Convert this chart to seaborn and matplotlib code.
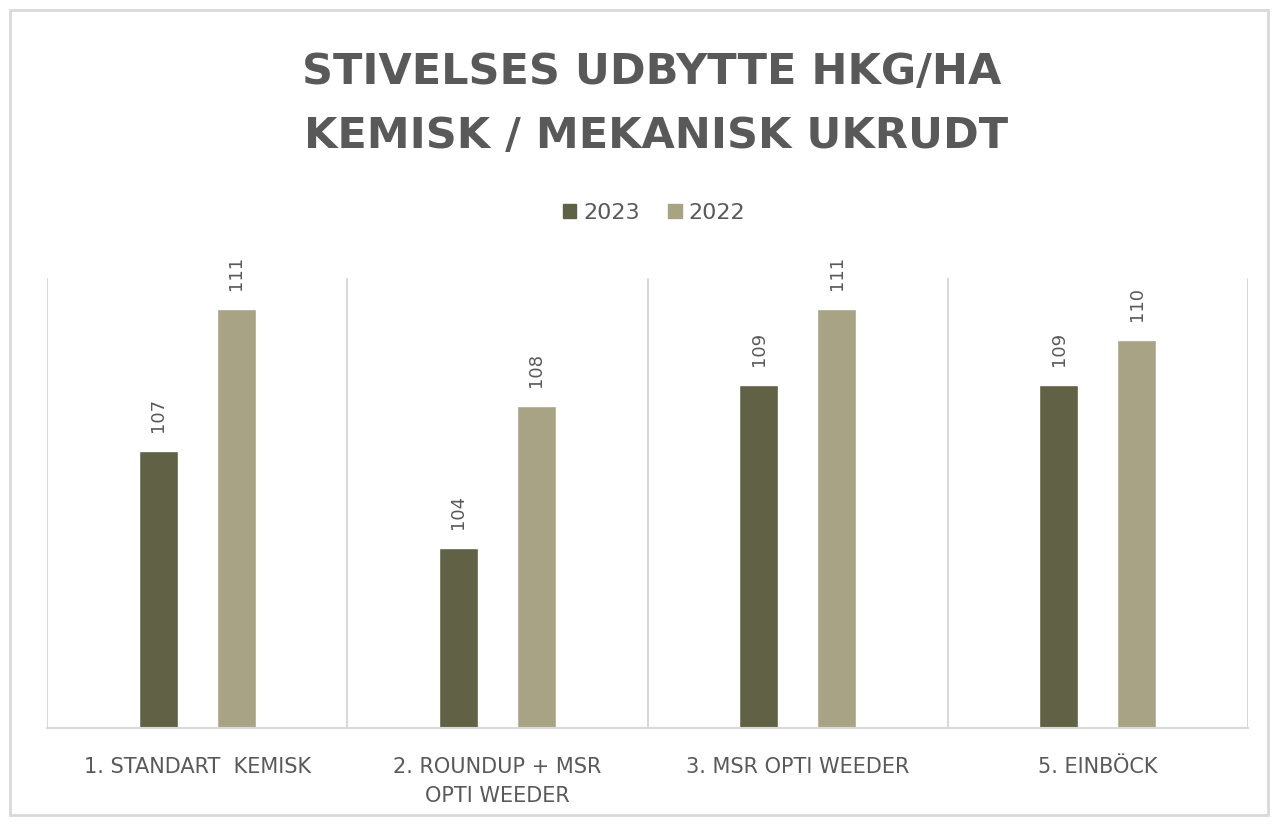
import matplotlib
matplotlib.use("Agg")
import matplotlib.pyplot as plt
import seaborn as sns
import pandas as pd
from matplotlib.patches import Rectangle

categories = ["1. STANDART  KEMISK", "2. ROUNDUP + MSR\nOPTI WEEDER", "3. MSR OPTI WEEDER", "5. EINBÖCK"]
years = ["2023", "2022"]
values_2023 = [107.0, 104.2, 108.9, 108.9]
values_2022 = [111.1, 108.3, 111.1, 110.2]
title_lines = ["STIVELSES UDBYTTE HKG/HA", "KEMISK / MEKANISK UKRUDT"]
colors = ["#616245", "#a9a386"]
text_color = "#595959"
grid_color = "#d9d9d9"

df = pd.DataFrame({
    "cat": categories * 2,
    "year": [years[0]] * 4 + [years[1]] * 4,
    "val": values_2023 + values_2022,
})

sns.set_theme(style="white")
plt.rcParams["font.family"] = ["DejaVu Sans"]

fig = plt.figure(figsize=(12.73, 8.24), dpi=100)
ax = fig.add_axes([47 / 1273, 1 - 728 / 824, (1248 - 47) / 1273, (728 - 278) / 824])

sns.barplot(data=df, x="cat", y="val", hue="year", order=categories, hue_order=years,
            palette=colors, width=0.52, gap=0.5, ax=ax, legend=False, saturation=1)

ax.set_ylim(99, 112)
ax.set_xlim(-0.5, len(categories) - 0.5)
ax.set_yticks([])
ax.set_xlabel("")
ax.set_ylabel("")
for s in ["top", "right", "left"]:
    ax.spines[s].set_visible(False)
ax.spines["bottom"].set_color(grid_color)
ax.spines["bottom"].set_linewidth(1.5)
for i in range(len(categories) + 1):
    ax.axvline(i - 0.5, color=grid_color, lw=1.5, zorder=0)

ax.tick_params(axis="x", length=0, pad=21, labelsize=15, labelcolor=text_color)
for lbl in ax.get_xticklabels():
    lbl.set_ha("center")
    lbl.set_linespacing(1.55)

for cont in ax.containers:
    ax.bar_label(cont, fmt="%.0f", rotation=90, padding=14, fontsize=13, color=text_color)

handles = [Rectangle((0, 0), 1, 1, color=c) for c in colors]
fig.legend(handles, years, loc="center", bbox_to_anchor=(654 / 1273, 1 - 213 / 824), ncol=2,
           frameon=False, fontsize=16, handlelength=0.6, handleheight=0.6,
           handletextpad=0.3, columnspacing=1.3, labelcolor=text_color)

fig.text(652 / 1273, 1 - 72 / 824, title_lines[0], ha="center", va="center",
         fontsize=31, fontweight="bold", color=text_color)
fig.text(656 / 1273, 1 - 136 / 824, title_lines[1], ha="center", va="center",
         fontsize=31, fontweight="bold", color=text_color)

fig.patches.append(Rectangle((10 / 1273, 1 - 815 / 824), 1258 / 1273, 805 / 824,
                             transform=fig.transFigure, fill=False,
                             edgecolor=grid_color, lw=2, zorder=-1))

fig.savefig("out.png", dpi=100, facecolor="white")
